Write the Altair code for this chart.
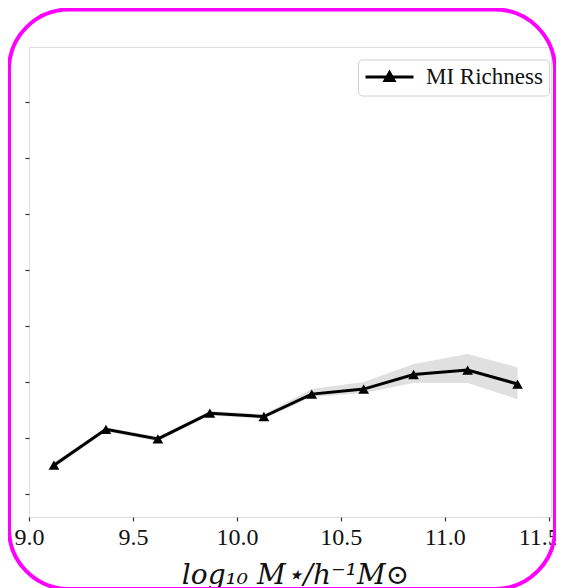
import altair as alt
import pandas as pd

# ---- data (y in units of the unlabeled y ticks) ----
log_mstar = [9.12, 9.37, 9.62, 9.87, 10.13, 10.36, 10.61, 10.85, 11.11, 11.35]
richness = [0.52, 1.16, 0.99, 1.45, 1.39, 1.79, 1.88, 2.14, 2.22, 1.97]
band_low = [0.47, 1.12, 0.95, 1.41, 1.35, 1.74, 1.81, 1.99, 1.99, 1.70]
band_high = [0.57, 1.20, 1.03, 1.49, 1.43, 1.88, 2.005, 2.33, 2.505, 2.27]
series_name = "MI Richness"
x_ticks = [9.0, 9.5, 10.0, 10.5, 11.0, 11.5]
y_ticks = [0, 1, 2, 3, 4, 5, 6, 7]

df = pd.DataFrame({
    "x": log_mstar,
    "y": richness,
    "lo": band_low,
    "hi": band_high,
    "series": [series_name] * len(log_mstar),
})

xscale = alt.Scale(domain=[9.0, 11.511], nice=False, zero=False)
yscale = alt.Scale(domain=[-0.405, 7.99], nice=False, zero=False)

xaxis = alt.Axis(
    values=x_ticks, format=".1f", grid=False, domain=False,
    tickSize=4, tickColor="#333", tickWidth=1.2,
    labelFont="Liberation Serif", labelFontSize=24, labelColor="#111",
    labelPadding=4, labelFlush=False, labelOverlap=False, labelBound=False,
    labelOffset={"expr": "datum.value >= 11.4 ? -10 : 0"},
    title="log₁₀ M⋆/h⁻¹M⊙", titleFont="DejaVu Serif",
    titleFontSize=28, titleFontStyle="italic", titleFontWeight="normal",
    titleColor="#111", titleBaseline="alphabetic", titleY=66.5, titleX=266,
    titleAlign="center",
)
yaxis = alt.Axis(
    values=y_ticks, labels=False, grid=False, domain=False, title=None,
    tickSize=4, tickColor="#333", tickWidth=1.2,
)

color = alt.Color(
    "series:N",
    scale=alt.Scale(domain=[series_name], range=["black"]),
    legend=alt.Legend(
        title=None, orient="none", legendX=329, legendY=12.5,
        symbolType="M -1 0 H 3.8 M 1.4 -0.45 L 1.85 0.35 L 0.95 0.35 Z",
        symbolSize=400, symbolStrokeWidth=3,
        symbolFillColor="black", symbolStrokeColor="black",
        labelFont="Liberation Serif", labelFontSize=23, labelColor="#111",
        labelOffset=39, padding=6,
        fillColor="white", strokeColor="#d0d0d0", cornerRadius=4,
    ),
)

base = alt.Chart(df)

band = base.mark_area(color="#e0e0e0", opacity=1).encode(
    x=alt.X("x:Q", scale=xscale, axis=xaxis),
    y=alt.Y("lo:Q", scale=yscale, axis=yaxis),
    y2="hi:Q",
)

line = base.mark_line(strokeWidth=3).encode(
    x=alt.X("x:Q", scale=xscale),
    y=alt.Y("y:Q", scale=yscale),
    color=color,
)

points = base.mark_point(shape="triangle-up", filled=True, size=115, opacity=1).encode(
    x=alt.X("x:Q", scale=xscale),
    y=alt.Y("y:Q", scale=yscale),
    color=color,
)

frame = alt.Chart(pd.DataFrame({"k": [0]})).mark_rect(
    fill="white", fillOpacity=0, stroke="#ff00ff", strokeWidth=4, cornerRadius=60
).encode(
    x=alt.value(-20), x2=alt.value(526), y=alt.value(-37.5), y2=alt.value(542)
)

chart = alt.layer(band, line, points, frame).properties(
    width=522, height=470,
    autosize=alt.AutoSizeParams(type="none"),
    padding={"left": 21, "top": 39, "right": 5, "bottom": 71},
).configure_view(
    stroke="#777", strokeWidth=1.5
).configure(background="white")

chart.save("out.html", embed_options={"renderer": "svg", "actions": False})
